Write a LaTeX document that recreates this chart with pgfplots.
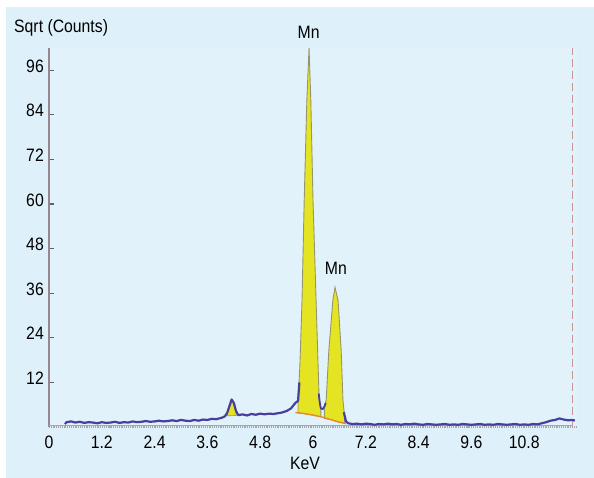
\documentclass[border=0pt]{standalone}
\usepackage{pgfplots}
\pgfplotsset{compat=1.18}
\usepackage{fontspec}
\setmainfont{Liberation Sans}[FakeStretch=0.88]
\definecolor{bgblue}{RGB}{222,240,249}
\definecolor{plotbg}{RGB}{226,242,250}
\definecolor{spec}{RGB}{72,62,158}
\definecolor{pkyellow}{RGB}{228,228,34}
\definecolor{pkedge}{RGB}{150,150,110}
\definecolor{bgorange}{RGB}{232,140,40}
\definecolor{yaxisc}{RGB}{150,135,145}
\definecolor{xaxisc}{RGB}{165,165,170}
\definecolor{dashc}{RGB}{200,150,150}
\definecolor{rosy}{RGB}{205,150,160}
\newcommand{\lblfont}{\fontsize{18}{21}\selectfont}
\begin{document}
\begin{tikzpicture}[x=1bp,y=1bp]
\useasboundingbox (0,0) rectangle (594,478);
\fill[white] (0,0) rectangle (594,478);
\fill[bgblue] (6,0) rectangle (594,471);
\fill[plotbg] (51,51) rectangle (577,430);
\node[anchor=base west, inner sep=0pt, font=\lblfont] at (14,445) {Sqrt (Counts)};
\node[anchor=base, inner sep=0pt, font=\lblfont] at (305,8) {KeV};
\begin{axis}[
  at={(49bp,51bp)}, anchor=south west, scale only axis,
  width=528bp, height=379bp,
  xmin=0, xmax=12, ymin=0, ymax=102,
  clip=false,
  axis x line=bottom, axis y line=left,
  x axis line style={draw=xaxisc, densely dotted, line width=1.2bp, -},
  y axis line style={draw=yaxisc, line width=2.6bp, -},
  xtick={0,1.2,2.4,3.6,4.8,6,7.2,8.4,9.6,10.8},
  xticklabels={0,1.2,2.4,3.6,4.8,6,7.2,8.4,9.6,10.8},
  ytick={12,24,36,48,60,72,84,96},
  yticklabels={12,24,36,48,60,72,84,96},
  xtick style={draw=none},
  ytick style={draw=yaxisc!70!black, line width=1.2bp},
  major tick length=5bp, tick align=inside,
  xticklabel style={anchor=base, inner sep=0pt, yshift=-22bp, font=\lblfont},
  yticklabel style={anchor=base east, inner sep=0pt, xshift=-5bp, yshift=-2bp, font=\lblfont},
]
% faint baseline
\addplot[rosy, line width=1bp] coordinates {(0,0.4) (11.9,0.4)};
% right dashed marker
\addplot[dashc, line width=1.3bp, dash pattern=on 8bp off 4bp] coordinates {(11.9,0) (11.9,102)};
% small peak fill
\addplot[fill=pkyellow, draw=pkedge, line width=0.6bp] coordinates {
 (4.05,3.8) (4.1,5.6) (4.15,7.4) (4.2,6.5) (4.25,4.3) (4.25,3.1) (4.05,3.0)} -- cycle;
% Mn K-alpha
\addplot[fill=pkyellow, draw=pkedge, line width=0.9bp] coordinates {
 (5.66,7) (5.70,16) (5.75,34) (5.80,61) (5.86,88) (5.91,102) (5.95,88) (6.00,61)
 (6.07,34) (6.14,7.3) (6.18,5) (6.18,2.75) (6.0,3.2) (5.8,3.6) (5.66,3.8)} -- cycle;
% Mn K-beta
\addplot[fill=pkyellow, draw=pkedge, line width=0.9bp] coordinates {
 (6.26,5.5) (6.30,7.3) (6.36,20.7) (6.45,34) (6.50,37.6) (6.57,34) (6.64,20.7)
 (6.68,7.3) (6.72,2.5) (6.72,1.1) (6.6,1.3) (6.4,2.0) (6.26,2.3)} -- cycle;
% background curve under Mn peaks
\addplot[bgorange, line width=1.4bp] coordinates {
 (5.60,3.9) (5.8,3.6) (6.0,3.2) (6.2,2.7) (6.4,2.0) (6.6,1.3) (6.75,0.9)};
% spectrum baseline (left part)
\addplot[spec, line width=2.2bp, line join=round] coordinates {
 (0.36,0.8) (0.4,1.3) (0.5,1.5) (0.6,1.2) (0.7,1.4) (0.8,1.1) (0.9,1.3) (1.0,1.2)
 (1.1,1.0) (1.2,1.3) (1.3,1.1) (1.4,1.2) (1.5,1.4) (1.6,1.1) (1.7,1.3) (1.8,1.2)
 (1.9,1.5) (2.0,1.3) (2.1,1.4) (2.2,1.6) (2.3,1.4) (2.4,1.5) (2.5,1.7) (2.6,1.5)
 (2.7,1.6) (2.8,1.8) (2.9,1.6) (3.0,1.9) (3.1,1.7) (3.2,1.6) (3.3,1.9) (3.4,1.7)
 (3.5,2.0) (3.6,1.9) (3.7,2.2) (3.8,2.1) (3.9,2.4) (3.95,2.6) (4.0,2.9) (4.05,3.8)
 (4.1,5.6) (4.15,7.4) (4.2,6.5) (4.25,4.3) (4.3,3.2) (4.4,3.4) (4.5,3.1) (4.6,3.5)
 (4.7,3.3) (4.8,3.6) (4.9,3.4) (5.0,3.6) (5.1,3.5) (5.2,3.7) (5.3,3.9) (5.4,4.3)
 (5.5,5.0) (5.6,6.5) (5.66,7) (5.69,12)};
% valley between peaks
\addplot[spec, line width=1.8bp, line join=round] coordinates {
 (6.13,9) (6.16,6) (6.18,5) (6.22,4.8) (6.26,5.5) (6.29,6.5)};
% spectrum tail
\addplot[spec, line width=2.2bp, line join=round] coordinates {
 (6.70,4) (6.75,1.5) (6.8,1.0) (6.9,0.8) (7.0,0.9) (7.1,0.7) (7.2,0.9) (7.3,0.8)
 (7.4,0.6) (7.5,0.8) (7.6,0.7) (7.7,0.9) (7.8,0.7) (7.9,0.8) (8.0,0.6) (8.1,0.8)
 (8.2,0.7) (8.3,0.9) (8.4,0.7) (8.5,0.6) (8.6,0.8) (8.7,0.7) (8.8,0.6) (8.9,0.7)
 (9.0,0.8) (9.1,0.6) (9.2,0.7) (9.3,0.6) (9.4,0.8) (9.5,0.7) (9.6,0.6) (9.7,0.7)
 (9.8,0.8) (9.9,0.6) (10.0,0.7) (10.1,0.6) (10.2,0.8) (10.3,0.7) (10.4,0.6)
 (10.5,0.7) (10.6,0.8) (10.7,0.6) (10.8,0.7) (10.9,0.6) (11.0,0.8) (11.1,0.7)
 (11.2,1.0) (11.3,1.3) (11.4,1.7) (11.5,1.9) (11.6,2.3) (11.7,2.0) (11.8,1.8)
 (11.9,1.9) (11.95,1.7)};
\node[anchor=base, inner sep=0pt, font=\lblfont] at (axis cs:5.90,104.5) {Mn};
\node[anchor=base, inner sep=0pt, font=\lblfont] at (axis cs:6.52,41) {Mn};
\end{axis}
\end{tikzpicture}
\end{document}
